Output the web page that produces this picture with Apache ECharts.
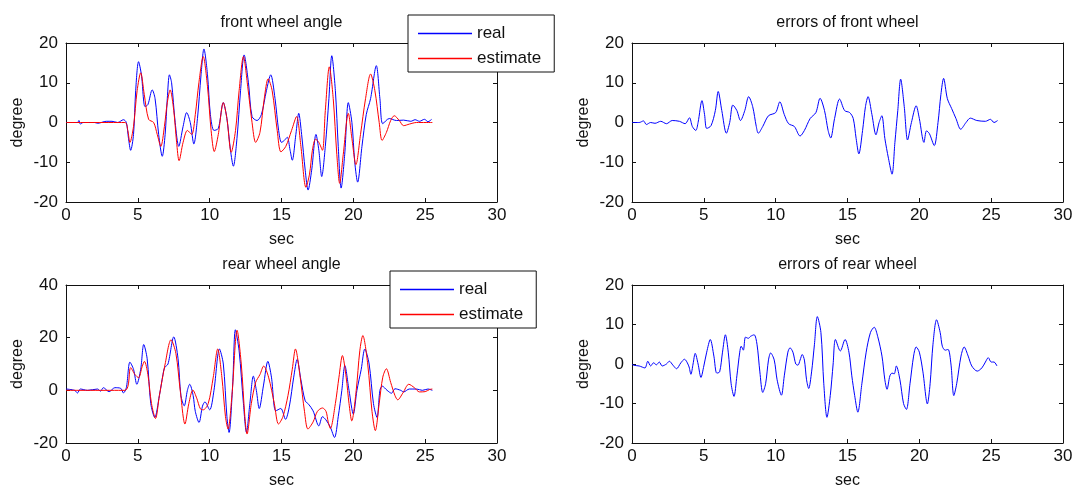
<!DOCTYPE html>
<html>
<head>
<meta charset="utf-8">
<script src="https://cdn.jsdelivr.net/npm/echarts/dist/echarts.min.js"></script>
<style>
html, body { margin: 0; padding: 0; background: #fff; }
#chart { width: 1078px; height: 491px; }
</style>
</head>
<body>
<div id="chart"></div>
<script>
// Time axis (sec) and tick labels
const xTicks = [0, 5, 10, 15, 20, 25, 30];
const frontTicks = [-20, -10, 0, 10, 20];
const rearTicks = [-20, 0, 20, 40];

// Front wheel angle: measured [sec, degree]
const frontReal = [[0,0],[0.8,0],[0.9,0.5],[1.0,-0.4],[1.2,0],[2.0,0],[2.2,-0.2],[2.8,0.3],[3.2,0.3],[3.6,0],[4.0,0.7],[4.2,0],[4.35,-4],[4.5,-7],[4.7,-3],[4.85,8],[5.05,15.3],[5.25,12],[5.5,4],[5.7,4.5],[6.0,8.2],[6.2,6],[6.45,-3],[6.7,-8.5],[6.9,-3],[7.05,6],[7.2,12],[7.35,10],[7.6,0],[7.85,-6],[8.15,-1],[8.4,2.5],[8.65,0],[8.9,-5.4],[9.15,1],[9.4,12],[9.6,18.5],[9.85,12],[10.05,2],[10.3,-2],[10.6,-1.5],[10.95,5],[11.2,1],[11.45,-7],[11.65,-11],[11.9,-4],[12.15,8],[12.4,17],[12.7,10],[12.95,1.5],[13.3,0.5],[13.6,2],[13.95,8],[14.25,12],[14.55,6],[14.8,-2],[15.0,-5],[15.2,-4.5],[15.4,-3.7],[15.6,-7],[15.75,-9.5],[16.0,-3],[16.2,2.3],[16.4,-3],[16.65,-12],[16.85,-17],[17.1,-12],[17.4,-3],[17.6,-7],[17.8,-13.6],[18.05,-6],[18.3,6],[18.5,16.8],[18.75,8],[18.95,-6],[19.15,-16.5],[19.4,-8],[19.65,5],[19.9,0],[20.1,-10],[20.3,-15],[20.6,-6],[20.9,2],[21.2,6],[21.6,14.3],[21.85,6],[22.05,-0.3],[22.5,1],[23.0,0.5],[23.5,0.6],[24.0,0.3],[24.3,0.7],[24.6,0.3],[24.95,0.8],[25.2,0.2],[25.45,0.8]];

// Front wheel angle: estimate
const frontEst = [[0,0],[4.1,0],[4.3,-2],[4.45,-5],[4.7,-1],[4.95,8],[5.2,12.5],[5.45,7],[5.75,0.8],[6.1,0],[6.35,-3],[6.6,-6],[6.85,-1],[7.05,5],[7.25,8.2],[7.5,3],[7.7,-5],[7.87,-9.6],[8.15,-5],[8.45,-2],[8.75,-3],[9.0,2],[9.25,10],[9.55,16.6],[9.85,9],[10.1,-2],[10.32,-7.3],[10.6,-3],[10.95,5],[11.2,1],[11.5,-7.5],[11.8,-2],[12.05,8],[12.35,16.6],[12.65,9],[12.95,0],[13.2,-5],[13.5,-2.5],[13.8,6],[14.07,11],[14.35,8],[14.7,-2],[14.96,-7.4],[15.3,-6],[15.7,-2],[16.05,1.5],[16.35,-6],[16.7,-16.3],[16.95,-13],[17.15,-7],[17.37,-4.2],[17.6,-5],[17.85,-7],[18.05,3],[18.33,14],[18.6,6],[18.85,-8],[19.05,-15.3],[19.3,-8],[19.65,2.3],[19.9,-4],[20.18,-10.6],[20.5,-3],[20.85,6],[21.2,12.2],[21.5,8],[21.8,0],[22.0,-4.5],[22.3,-2.5],[22.6,0.5],[22.85,1.7],[23.2,0.5],[23.5,-0.8],[23.9,-0.4],[24.4,0],[25.5,0]];

// Front wheel estimation error
const frontErr = [[0,0],[0.5,0],[0.8,0.4],[1.0,-0.5],[1.3,0],[1.6,-0.2],[2.0,0.3],[2.4,-0.3],[2.8,0.5],[3.3,0.3],[3.7,-0.3],[4.0,1.2],[4.2,-1],[4.44,-2],[4.6,0],[4.87,5.5],[5.05,2],[5.2,-1.5],[5.5,-0.8],[5.8,3],[6.0,7.8],[6.25,3],[6.57,-2.7],[6.8,0],[7.02,4.4],[7.3,3],[7.55,0.5],[7.85,3],[8.12,6.5],[8.4,4],[8.65,-1],[8.79,-2.7],[9.1,-1],[9.5,1.7],[10.0,2.5],[10.29,5.2],[10.6,2],[10.9,-0.3],[11.3,-1],[11.7,-3.4],[12.0,-2],[12.4,1],[12.8,2.5],[13.09,6.1],[13.4,3],[13.65,-2],[13.83,-3.9],[14.1,1],[14.45,5.9],[14.8,3],[15.15,2.5],[15.4,1],[15.6,-4],[15.79,-7.9],[16.05,-2],[16.25,4],[16.43,6.5],[16.7,2],[16.98,-3.1],[17.2,0],[17.39,1.7],[17.6,-4],[17.85,-9],[18.1,-13],[18.3,-5],[18.5,3],[18.7,10.9],[18.95,4],[19.18,-4.4],[19.45,0],[19.78,4.2],[20.0,1],[20.32,-5],[20.5,-2.1],[20.7,-2.8],[21.04,-5.8],[21.3,0],[21.5,7],[21.69,11.1],[21.95,6],[22.25,3.5],[22.55,1],[22.88,-1.7],[23.25,0],[23.55,1.1],[24.0,0.5],[24.6,0.3],[24.95,0.8],[25.2,0],[25.45,0.5]];

// Rear wheel angle: measured
const rearReal = [[0,0.5],[0.6,0],[0.8,-1],[1.0,0.5],[1.5,0],[2.2,0.5],[2.4,-0.3],[2.6,1],[3.0,-0.5],[3.4,1],[3.8,0.8],[4.0,-1],[4.2,1],[4.45,10.7],[4.7,8],[4.93,2.3],[5.2,8],[5.41,17.4],[5.65,12],[5.9,-5],[6.18,-10.3],[6.5,-2],[6.75,6],[6.86,8.6],[7.1,10],[7.5,20.3],[7.8,12],[8.0,-2],[8.23,-5.9],[8.45,0],[8.61,2.3],[8.85,-2],[9.0,-8],[9.26,-12.2],[9.5,-6],[9.67,-4.4],[10.0,-7.4],[10.3,0],[10.68,15.7],[10.95,10],[11.2,-10],[11.35,-16],[11.6,2],[11.79,23],[12.05,15],[12.35,-5],[12.56,-16],[12.8,-5],[13.04,5.4],[13.25,0],[13.45,-6.9],[13.75,2],[14.05,11],[14.3,5],[14.6,-7.8],[14.95,-6.9],[15.28,-11],[15.55,-6],[15.85,5],[16.09,11.7],[16.35,4],[16.65,-4],[16.89,-5.3],[17.2,-7.8],[17.6,-13.5],[17.85,-10],[18.09,-11.2],[18.4,-14],[18.69,-17.9],[18.95,-10],[19.2,0],[19.41,9.4],[19.7,0],[20.0,-9],[20.25,0],[20.55,8],[20.8,15.7],[21.1,10],[21.4,-5],[21.65,-10.3],[21.85,0],[22.01,1.6],[22.35,0],[22.66,-1.1],[22.9,0.6],[23.3,0],[23.5,-0.6],[23.9,0.5],[24.4,0.5],[24.8,0],[25.2,0.5],[25.5,0]];

// Rear wheel angle: estimate
const rearEst = [[0,0],[4.1,0],[4.5,8.6],[4.8,6],[5.05,4.8],[5.3,9],[5.46,11],[5.7,6],[5.95,-5],[6.23,-10.7],[6.5,-2],[6.9,10],[7.31,19.2],[7.65,14],[7.95,0],[8.28,-12.8],[8.55,-5],[8.83,0.1],[9.1,-3],[9.35,-7],[9.55,-7.4],[9.9,-5],[10.25,5],[10.56,15.7],[10.85,5],[11.1,-10],[11.28,-14.7],[11.55,-2],[11.91,22.8],[12.2,10],[12.45,-10],[12.6,-16.6],[12.9,-5],[13.2,3],[13.5,6],[13.76,9.2],[14.1,5],[14.5,-5],[14.79,-12.8],[15.1,-10],[15.45,-2],[15.75,8],[15.97,15.7],[16.3,5],[16.6,-8],[16.84,-14.7],[17.2,-12],[17.5,-8],[17.85,-6.7],[18.1,-8],[18.25,-12],[18.4,-14.5],[18.75,-5],[19.0,5],[19.24,13.2],[19.5,5],[19.7,-5],[19.89,-11.6],[20.2,0],[20.45,15],[20.66,20.8],[21.0,10],[21.3,-8],[21.53,-15.3],[21.8,-5],[22.05,5],[22.3,8.2],[22.6,3],[22.9,-2],[23.09,-3.6],[23.45,-1],[23.86,2.3],[24.25,1],[24.6,-0.6],[25.0,-0.5],[25.3,0.3],[25.5,0.5]];

// Rear wheel estimation error
const rearErr = [[0,0],[0.1,-0.3],[0.5,-0.5],[0.9,-1],[1.1,0.7],[1.3,-0.5],[1.5,0.3],[1.7,-0.2],[1.9,0.5],[2.1,-0.5],[2.4,0],[2.6,0.7],[2.85,-0.3],[3.1,-1.2],[3.4,0.3],[3.65,1.2],[3.95,-0.5],[4.1,-2.6],[4.25,0],[4.4,2.7],[4.6,0],[4.8,-3.4],[5.0,-0.5],[5.2,3],[5.45,6.2],[5.7,2],[5.9,-2.3],[6.1,-2],[6.3,3],[6.5,7.4],[6.7,3],[6.9,-5],[7.1,-8.2],[7.3,-3],[7.5,3],[7.6,4.5],[7.75,3.5],[7.9,6.8],[8.1,6.5],[8.25,7],[8.5,7.4],[8.7,5],[8.9,-2],[9.1,-7.2],[9.3,-5],[9.5,1],[9.65,2.8],[9.9,1],[10.1,-4],[10.4,-7.9],[10.6,-3],[10.85,3],[11.0,4.1],[11.2,3],[11.4,0],[11.55,-0.3],[11.7,1],[11.85,2.4],[12.0,1],[12.15,-4],[12.3,-6.2],[12.5,-2],[12.7,5],[12.9,12],[13.15,8],[13.35,-5],[13.57,-13.5],[13.8,-8],[14.0,0],[14.16,6.2],[14.5,3.3],[14.83,6.2],[15.1,3],[15.3,-3],[15.5,-8],[15.72,-12.2],[16.0,-5],[16.3,3],[16.6,8],[16.86,9.3],[17.1,7],[17.4,2],[17.6,-4],[17.75,-6.4],[17.95,-3],[18.1,-2.3],[18.25,-2.5],[18.4,-0.5],[18.65,-4],[18.9,-10],[19.1,-11.5],[19.35,-5],[19.6,2],[19.78,4.3],[20.0,3],[20.25,-2],[20.56,-10.1],[20.75,-5],[20.95,5],[21.2,11.2],[21.45,8],[21.6,4.5],[21.8,3.5],[22.0,3.7],[22.2,0],[22.4,-8],[22.6,-5],[22.9,2],[23.12,4.3],[23.4,2],[23.65,-0.5],[24.03,-1.8],[24.35,-1],[24.6,0.5],[24.8,1.6],[25.0,0.5],[25.2,0.5],[25.4,-0.5]];

const titles = ['front wheel angle', 'errors of front wheel', 'rear wheel angle', 'errors of rear wheel'];

// Panel layout (px)
const panels = [
  { left: 66,  top: 43,  width: 431, height: 159, ticks: frontTicks },
  { left: 632, top: 43,  width: 431, height: 159, ticks: frontTicks },
  { left: 66,  top: 285, width: 431, height: 158, ticks: rearTicks },
  { left: 632, top: 285, width: 431, height: 158, ticks: frontTicks }
];

const FONT = 'Liberation Sans, Arial, sans-serif';
const INK = '#111';
const BLUE = '#0000ff';
const RED = '#ff0000';

const grid = [], xAxis = [], yAxis = [];
panels.forEach((p, i) => {
  grid.push({ left: p.left, top: p.top, width: p.width, height: p.height, show: false });
  const line = { show: true, onZero: false, lineStyle: { color: INK, width: 1 } };
  const tick = { show: true, inside: true, length: 4, lineStyle: { color: INK, width: 1 } };
  const yMin = p.ticks[0], yMax = p.ticks[p.ticks.length - 1];
  const yInt = p.ticks[1] - p.ticks[0];
  // bottom axis with labels
  xAxis.push({
    type: 'value', gridIndex: i, position: 'bottom',
    min: xTicks[0], max: xTicks[xTicks.length - 1], interval: xTicks[1] - xTicks[0],
    axisLine: line, axisTick: tick, splitLine: { show: false },
    axisLabel: { color: INK, fontFamily: FONT, fontSize: 17, margin: 5 },
    name: 'sec', nameLocation: 'middle', nameGap: 30,
    nameTextStyle: { color: INK, fontFamily: FONT, fontSize: 16 }
  });
  // top axis carries the panel title
  xAxis.push({
    type: 'value', gridIndex: i, position: 'top',
    min: xTicks[0], max: xTicks[xTicks.length - 1], interval: xTicks[1] - xTicks[0],
    axisLine: line, axisTick: tick, splitLine: { show: false },
    axisLabel: { show: false },
    name: titles[i], nameLocation: 'middle', nameGap: 12,
    nameTextStyle: { color: INK, fontFamily: FONT, fontSize: 16 }
  });
  yAxis.push({
    type: 'value', gridIndex: i, position: 'left',
    min: yMin, max: yMax, interval: yInt,
    axisLine: line, axisTick: tick, splitLine: { show: false },
    axisLabel: { color: INK, fontFamily: FONT, fontSize: 17, margin: 8 },
    name: 'degree', nameLocation: 'middle', nameGap: 40, nameRotate: 90,
    nameTextStyle: { color: INK, fontFamily: FONT, fontSize: 16 }
  });
  yAxis.push({
    type: 'value', gridIndex: i, position: 'right',
    min: yMin, max: yMax, interval: yInt,
    axisLine: line, axisTick: tick, splitLine: { show: false },
    axisLabel: { show: false }
  });
});

function lineSeries(name, data, color, panel) {
  return {
    name, type: 'line', data,
    xAxisIndex: panel * 2, yAxisIndex: panel * 2,
    showSymbol: false, symbol: 'none', smooth: 0.3,
    lineStyle: { color, width: 1 }, itemStyle: { color },
    animation: false
  };
}

const legendBase = {
  data: ['real', 'estimate'], orient: 'vertical',
  icon: 'rect', itemWidth: 54, itemHeight: 1.5, itemGap: 8,
  backgroundColor: '#fff', borderColor: INK, borderWidth: 1,
  padding: [10, 13, 5, 10], selectedMode: false,
  textStyle: { color: INK, fontFamily: FONT, fontSize: 17 }
};

const option = {
  backgroundColor: '#fff',
  animation: false,
  grid, xAxis, yAxis,
  legend: [
    Object.assign({}, legendBase, { left: 408, top: 15 }),
    Object.assign({}, legendBase, { left: 390, top: 271 })
  ],
  series: [
    lineSeries('real', frontReal, BLUE, 0),
    lineSeries('estimate', frontEst, RED, 0),
    lineSeries('front error', frontErr, BLUE, 1),
    lineSeries('real', rearReal, BLUE, 2),
    lineSeries('estimate', rearEst, RED, 2),
    lineSeries('rear error', rearErr, BLUE, 3)
  ]
};

const chart = echarts.init(document.getElementById('chart'), null, { renderer: 'canvas' });
chart.setOption(option);
</script>
</body>
</html>
